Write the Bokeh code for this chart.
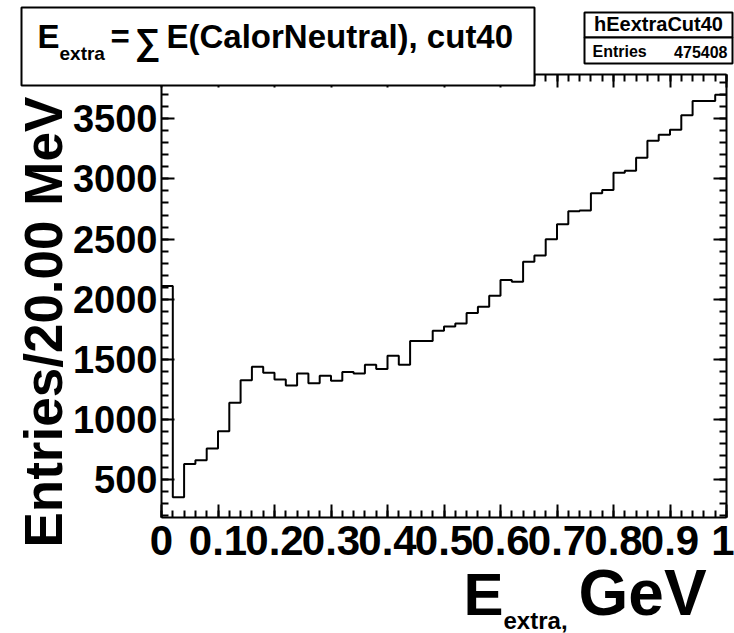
import math

from bokeh.plotting import figure
from bokeh.models import (Range1d, LinearAxis, FixedTicker, NumeralTickFormatter,
                          CustomJSTickFormatter, Label, BoxAnnotation)
from bokeh.embed import file_html
from bokeh.resources import INLINE

# Histogram: 50 bins of 20 MeV between 0 and 1 GeV
e_lo, e_hi, n_bins = 0.0, 1.0, 50
counts = [2110, 352, 630, 660, 758, 902, 1138, 1325, 1438, 1388,
          1333, 1283, 1383, 1300, 1363, 1322, 1394, 1383, 1455, 1419,
          1530, 1455, 1653, 1653, 1737, 1772, 1797, 1885, 1938, 2028,
          2160, 2146, 2311, 2364, 2499, 2624, 2731, 2737, 2880, 2908,
          3052, 3069, 3177, 3317, 3367, 3409, 3530, 3649, 3649, 3701]

hist_name = "hEextraCut40"
n_entries = 475408

x_major = [0.0, 0.1, 0.2, 0.3, 0.4, 0.5, 0.6, 0.7, 0.8, 0.9, 1.0]
x_minor = [i / 50 for i in range(51)]
y_major = [500, 1000, 1500, 2000, 2500, 3000, 3500]
y_minor = list(range(200, 3900, 100))

y_title = "Entries/20.00 MeV"

# bin edges and ROOT-like 5% vertical margins
width = (e_hi - e_lo) / n_bins
edges = [e_lo + i * width for i in range(n_bins + 1)]
span = max(counts) - min(counts)
y_lo = min(counts) - 0.05 * span
y_hi = max(counts) + 0.05 * span

W, H = 734, 633
FL, FR, FT, FB = 161, 726, 74, 517   # histogram frame in canvas pixels

# The plot area covers the whole canvas; ranges are widened so that the
# histogram frame lands at FL..FR, FT..FB and the pads fit around it.
ppx = (FR - FL) / (e_hi - e_lo)
ppy = (FB - FT) / (y_hi - y_lo)
x_range = Range1d(e_lo - FL / ppx, e_hi + (W - FR) / ppx)
y_range = Range1d(y_lo - (H - FB) / ppy, y_hi + FT / ppy)

p = figure(width=W, height=H, x_range=x_range, y_range=y_range, title="",
           output_backend="svg", toolbar_location=None, min_border=0)
p.xgrid.visible = False
p.ygrid.visible = False
p.outline_line_color = None
p.background_fill_color = "white"
p.border_fill_color = "white"

p.add_layout(LinearAxis(), "above")
p.add_layout(LinearAxis(), "right")


def style(ax, major, minor, where, bounds):
    ax.fixed_location = where
    ax.bounds = bounds
    ax.ticker = FixedTicker(ticks=major, minor_ticks=minor)
    ax.axis_line_width = 2
    ax.axis_line_color = "black"
    ax.major_tick_in = 13
    ax.major_tick_out = 0
    ax.minor_tick_in = 7
    ax.minor_tick_out = 0
    ax.major_tick_line_width = 2
    ax.minor_tick_line_width = 2
    ax.major_tick_line_color = "black"
    ax.minor_tick_line_color = "black"


style(p.below[0], x_major, x_minor, y_lo, (e_lo, e_hi))
style(p.above[0], x_major, x_minor, y_hi, (e_lo, e_hi))
style(p.left[0], y_major, y_minor, e_lo, (y_lo, y_hi))
style(p.right[0], y_major, y_minor, e_hi, (y_lo, y_hi))

bx = p.below[0]
bx.formatter = NumeralTickFormatter(format="0.[0]")
bx.major_label_text_font = "Liberation Sans"
bx.major_label_text_font_style = "bold"
bx.major_label_text_font_size = "42px"
bx.major_label_text_color = "black"
bx.major_label_standoff = 8

ly = p.left[0]
ly.major_label_text_font = "Liberation Sans"
ly.major_label_text_font_style = "bold"
ly.major_label_text_font_size = "38px"
ly.major_label_text_color = "black"
ly.major_label_standoff = 4

for ax in (p.above[0], p.right[0]):
    ax.formatter = CustomJSTickFormatter(code="return ''")
    ax.major_label_standoff = 0

# the histogram outline
p.step(x=edges, y=counts + [counts[-1]], mode="after", line_color="black", line_width=2)


def text(t, X, B, size, align="left", angle=0.0):
    """Bold label whose baseline sits at canvas pixel B (x at canvas pixel X)."""
    shift = 0.375 * size          # anchor-to-baseline offset of the label box
    if angle:
        x, y = X - shift, H - B
    else:
        x, y = X, H - (B - shift)
    p.add_layout(Label(x=x, y=y, x_units="screen", y_units="screen", text=t,
                       text_font="Liberation Sans", text_font_style="bold",
                       text_font_size=f"{size}px", text_color="black",
                       text_align=align, text_baseline="alphabetic", angle=angle))


def box(X0, Y0, X1, Y1):
    p.add_layout(BoxAnnotation(left=X0, right=X1, top=H - Y0, bottom=H - Y1,
                               left_units="screen", right_units="screen",
                               top_units="screen", bottom_units="screen",
                               fill_color="white", fill_alpha=1.0,
                               line_color="black", line_width=2, line_alpha=1.0))


# title pave
box(21, 7, 534, 85)
text("E", 37, 48, 33)
text("extra", 59, 60, 19)
text("=", 110, 48, 33)
text("\u2211", 134, 54, 36)
text("E(CalorNeutral), cut40", 166, 48, 33)

# statistics pave
box(584, 12, 732, 37)
box(584, 37, 732, 63)
text(hist_name, 658, 31, 20, align="center")
text("Entries", 592, 57, 16)
text(str(n_entries), 727, 57, 16, align="right")

# axis titles
text(y_title, 63, 547, 53, angle=math.pi / 2)
text("E", 463, 616, 60)
text("extra,", 503, 629, 24)
text("GeV", 578, 616, 64)

open("out.html", "w").write(file_html(p, INLINE))
